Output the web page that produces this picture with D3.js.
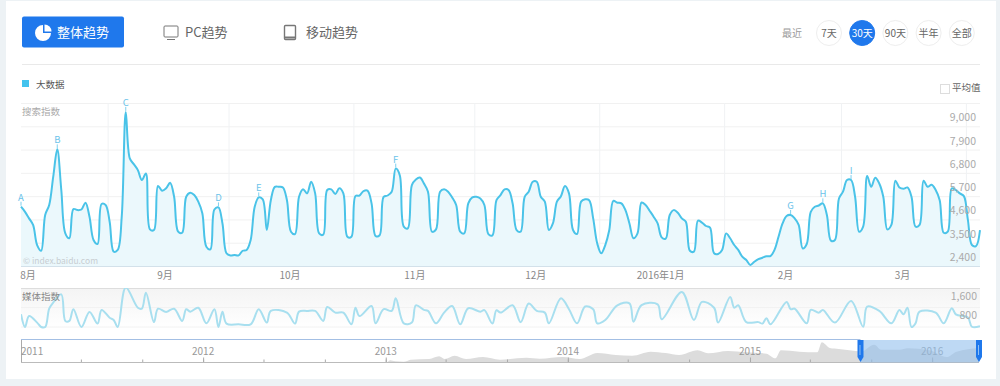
<!DOCTYPE html>
<html>
<head>
<meta charset="utf-8">
<script src="https://cdn.jsdelivr.net/npm/d3@7"></script>
<style>
  html, body { margin: 0; padding: 0; background: #edf2f5; overflow: hidden; }
  svg { display: block; font-family: "Noto Sans CJK SC", "Noto Sans", sans-serif; }
  .domain { display: none; }
</style>
</head>
<body>
<script>
// search index, one value per day from 2015-08-10
const searchValues = [
  5200, 4960, 4650, 4340, 3390, 3120, 4810, 5280, 6620, 7910,
  5990, 3940, 3710, 5090, 5040, 5070, 5390, 4730, 3630, 3440,
  5330, 5280, 4490, 3080, 3160, 4730, 9680, 7480, 7210, 6930,
  6460, 6770, 4130, 4100, 6180, 5960, 6070, 6330, 5670, 4020,
  3970, 5670, 5860, 5750, 5440, 4890, 3310, 3190, 5070, 5170,
  4410, 3000, 2900, 2920, 2900, 3120, 3160, 3630, 5200, 5640,
  5550, 4100, 5510, 6140, 6140, 6110, 5510, 4020, 3910, 5670,
  6030, 5830, 6380, 5830, 3940, 3880, 5990, 6020, 5800, 6070,
  5830, 3780, 3780, 5700, 5730, 5940, 5960, 5360, 3820, 3850,
  5670, 5730, 5910, 7000, 6690, 4260, 4180, 6220, 6490, 6580,
  6300, 5910, 4020, 4130, 5910, 6020, 5910, 5640, 5280, 4020,
  3940, 5360, 5640, 5670, 5590, 5280, 3910, 3850, 5510, 5750,
  6020, 5990, 5360, 4100, 4020, 5670, 5910, 6380, 6380, 5670,
  5440, 4100, 4410, 5440, 5700, 6180, 5830, 4100, 3910, 5440,
  5550, 5510, 4650, 3470, 3000, 3390, 4100, 5480, 5390, 5360,
  5040, 4410, 3710, 3940, 5400, 5280, 5010, 4730, 4410, 3750,
  3690, 4810, 5040, 4920, 4650, 4490, 3120, 3080, 4540, 4450,
  4290, 4210, 3000, 2970, 3160, 3940, 3710, 3390, 3160, 2840,
  2680, 2450, 2600, 2720, 2790, 2860, 2870, 3160, 3780, 4410,
  4760, 4810, 4650, 4340, 3230, 3440, 4960, 5200, 5260, 5360,
  4810, 3600, 3630, 5590, 5910, 6460, 6460, 5670, 4020, 4260,
  6650, 6140, 6570, 6300, 5670, 4130, 4340, 6430, 6110, 6050,
  6110, 5670, 4260, 4340, 6430, 6140, 6240, 5990, 5510, 3970,
  4020, 6070, 5990, 5830, 5700, 4570, 3390, 3340, 4100
];

// media index, turning points only (day number, value)
const mediaDays = [
  0, 1, 2, 4, 5, 6, 7, 8, 10, 11, 12, 13, 15, 17, 19, 20, 22, 23, 24, 26,
  29, 30, 31, 33, 34, 36, 38, 40, 41, 42, 44, 46, 48, 49, 50, 51, 54, 57, 59, 61,
  62, 66, 68, 69, 71, 73, 75, 76, 78, 80, 82, 83, 84, 87, 88, 90, 92, 93, 95, 97,
  98, 100, 101, 103, 105, 107, 109, 111, 114, 115, 117, 118, 119, 122, 124, 126, 128, 130, 131, 134,
  136, 138, 140, 142, 143, 145, 148, 151, 152, 154, 158, 159, 164, 167, 169, 172, 173, 176, 177, 178,
  180, 183, 184, 185, 186, 190, 191, 192, 195, 196, 198, 199, 202, 206, 209, 210, 213, 216, 218, 219,
  220, 221, 222, 223, 227, 229, 231, 232, 235, 236, 238
];
const mediaValues = [
  1320, 800, 1250, 980, 800, 800, 1550, 1800, 2140, 1050, 1050, 1530, 800, 1420, 940, 1500, 1180, 1090, 800, 2420,
  1590, 1550, 2210, 1000, 1550, 1420, 1550, 1050, 1530, 1430, 1590, 950, 1530, 800, 1430, 940, 910, 910, 1530, 980,
  1460, 1390, 940, 1430, 1460, 1460, 1050, 1620, 1390, 1390, 910, 1590, 1250, 1660, 950, 1530, 1460, 1980, 950, 980,
  1690, 1500, 1460, 950, 1390, 1660, 910, 1570, 1430, 1490, 940, 1490, 1390, 1690, 1000, 1760, 1460, 1390, 950, 1980,
  1530, 950, 1640, 1530, 950, 1090, 1690, 1770, 1020, 1700, 1730, 1120, 2240, 1090, 1830, 1590, 980, 2030, 1590, 1690,
  1000, 1000, 940, 1160, 910, 1830, 1530, 1550, 950, 1500, 1390, 1500, 980, 1870, 810, 1640, 1460, 950, 1500, 1320,
  1590, 800, 950, 1430, 1390, 950, 1570, 1320, 1190, 810, 830
];

// overview strip
const overviewDates = [
  '2012-10-25', '2013-01-04', '2013-01-10', '2013-01-20', '2013-02-06', '2013-02-20', '2013-03-29', '2013-04-18',
  '2013-04-29', '2013-05-19', '2013-06-11', '2013-07-15', '2013-08-18', '2013-10-10', '2013-11-06', '2013-12-22',
  '2014-01-25', '2014-03-01', '2014-04-07', '2014-05-10', '2014-06-16', '2014-07-16', '2014-08-12', '2014-09-18',
  '2014-10-09', '2014-11-18', '2014-12-25', '2015-02-03', '2015-02-21', '2015-03-04', '2015-04-10', '2015-05-16',
  '2015-05-25', '2015-06-10', '2015-06-28', '2015-08-01', '2015-08-12', '2015-09-07', '2015-09-21', '2015-10-28',
  '2015-11-13', '2015-12-27', '2016-01-30', '2016-02-19', '2016-04-04'
];
const overviewValues = [
  0, 0, 830, 330, 100, 1170, 1500, 2840,
  1500, 3170, 1500, 2500, 1170, 2170, 1670, 2500,
  1500, 4500, 3500, 3170, 5170, 4500, 3500, 5840,
  4340, 5500, 4840, 4170, 1840, 5840, 5170, 4840,
  9850, 7010, 6510, 5500, 5340, 8680, 6180, 6180,
  6850, 5840, 2500, 5170, 7010
];

const searchTicks = [2400, 3500, 4600, 5700, 6800, 7900, 9000, 10100];
const mediaTicks = [800, 1600, 2400];
const monthGrid = ['2015-09-01', '2015-10-01', '2015-11-01', '2015-12-01', '2016-01-01', '2016-02-01', '2016-03-01', '2016-04-01'];
const monthLabels = ['8月', '9月', '10月', '11月', '12月', '2016年1月', '2月', '3月'];
const monthLabelDates = ['2015-08-12', '2015-09-15', '2015-10-16', '2015-11-16', '2015-12-16', '2016-01-16', '2016-02-16', '2016-03-16'];
const markerLetters = ['A', 'B', 'C', 'D', 'E', 'F', 'G', 'H', 'I'];
const markerDays = [0, 9, 26, 49, 59, 93, 191, 199, 206];
const rangeLabels = ['7天', '30天', '90天', '半年', '全部'];
const yearTicks = ['2011', '2012', '2013', '2014', '2015', '2016'];

const width = 1000;
const height = 386;
const left = 21;
const right = 980;
const blue = '#1f78ec';
const lineColor = '#4ac3e8';

const parse = d3.timeParse('%Y-%m-%d');
const startDay = new Date(2015, 7, 10, 12);
const dayDate = i => d3.timeDay.offset(startDay, i);

const x = d3.scaleTime([startDay, dayDate(238)], [left, right]);
const y = d3.scaleLinear([2400, 10100], [266, 103]);
const yMedia = d3.scaleLinear([800, 2400], [327, 288]);
const xOver = d3.scaleTime([new Date(2011, 0, 1), new Date(2016, 3, 4)], [left, 979]);
const yOver = d3.scaleLinear([0, 10000], [362, 342]);
const smooth = d3.curveCatmullRom.alpha(0.5);

const svg = d3.select('body').append('svg')
  .attr('width', width)
  .attr('height', height)
  .attr('viewBox', [0, 0, width, height]);

const defs = svg.append('defs');
const grad = defs.append('linearGradient').attr('id', 'media-bg').attr('x1', 0).attr('x2', 0).attr('y1', 0).attr('y2', 1);
grad.append('stop').attr('offset', 0).attr('stop-color', '#f4f4f4');
grad.append('stop').attr('offset', 1).attr('stop-color', '#ffffff');
defs.append('clipPath').attr('id', 'media-clip').append('rect')
  .attr('x', left).attr('y', 288).attr('width', right - left).attr('height', 42);

// card
svg.append('rect').attr('x', 6).attr('y', 1).attr('width', 990).attr('height', 378).attr('fill', '#fff');

// tab bar
svg.append('rect').attr('x', 22).attr('y', 16.5).attr('width', 102).attr('height', 31).attr('rx', 2).attr('fill', blue);
const pie = d3.arc().innerRadius(0).outerRadius(8);
svg.append('path').attr('transform', 'translate(43,33)').attr('fill', '#fff')
  .attr('d', pie({startAngle: Math.PI / 2, endAngle: Math.PI * 2}));
svg.append('path').attr('transform', 'translate(44.5,31.5)').attr('fill', '#fff')
  .attr('d', pie.outerRadius(7)({startAngle: 0, endAngle: Math.PI / 2}));
svg.append('text').attr('x', 57).attr('y', 37).attr('font-size', 13).attr('fill', '#fff').text('整体趋势');

svg.append('rect').attr('x', 164).attr('y', 26).attr('width', 14).attr('height', 11).attr('rx', 1)
  .attr('fill', 'none').attr('stroke', '#777').attr('stroke-width', 1);
svg.append('line').attr('x1', 167).attr('x2', 175).attr('y1', 39.5).attr('y2', 39.5).attr('stroke', '#777');
svg.append('text').attr('x', 185).attr('y', 37).attr('font-size', 13).attr('fill', '#666').text('PC趋势');

svg.append('rect').attr('x', 284.5).attr('y', 25.5).attr('width', 11).attr('height', 14).attr('rx', 1)
  .attr('fill', 'none').attr('stroke', '#777').attr('stroke-width', 1.4);
svg.append('line').attr('x1', 285).attr('x2', 295).attr('y1', 37.5).attr('y2', 37.5).attr('stroke', '#777').attr('stroke-width', 2);
svg.append('text').attr('x', 306).attr('y', 37).attr('font-size', 13).attr('fill', '#666').text('移动趋势');

svg.append('text').attr('x', 782).attr('y', 37).attr('font-size', 10).attr('fill', '#999').text('最近');
const rangeBtn = svg.append('g').selectAll('g').data(rangeLabels).join('g')
  .attr('transform', (d, i) => `translate(${829 + i * 33.2},33)`);
rangeBtn.append('circle').attr('r', 12.5)
  .attr('fill', (d, i) => i === 1 ? blue : '#fff')
  .attr('stroke', (d, i) => i === 1 ? blue : '#eee');
rangeBtn.append('text').attr('y', 3.5).attr('text-anchor', 'middle').attr('font-size', 10)
  .attr('fill', (d, i) => i === 1 ? '#fff' : '#666').text(d => d);

svg.append('line').attr('x1', 22).attr('x2', 980).attr('y1', 64.5).attr('y2', 64.5).attr('stroke', '#e9e9e9');

// legend
svg.append('rect').attr('x', 22).attr('y', 80).attr('width', 7).attr('height', 7).attr('fill', '#43c3ee');
svg.append('text').attr('x', 36).attr('y', 87.5).attr('font-size', 9.5).attr('fill', '#555').text('大数据');
svg.append('rect').attr('x', 940.5).attr('y', 84.5).attr('width', 9).attr('height', 9).attr('fill', '#fff').attr('stroke', '#ddd');
svg.append('text').attr('x', 952).attr('y', 91).attr('font-size', 9.5).attr('fill', '#666').text('平均值');

// search index panel
svg.append('g').attr('transform', `translate(${left},0)`)
  .call(d3.axisLeft(y).tickValues(searchTicks).tickSize(-(right - left)).tickFormat(''))
  .call(g => g.selectAll('.tick line').attr('stroke', '#f1f1f1'));
svg.append('g').attr('transform', 'translate(0,266)')
  .call(d3.axisBottom(x).tickValues(monthGrid.map(parse)).tickSize(-163).tickFormat(''))
  .call(g => g.selectAll('.tick line').attr('stroke', '#f0f2f4'));

const area = d3.area()
  .x((d, i) => x(dayDate(i)))
  .y0(266)
  .y1(d => y(d))
  .curve(smooth);
const line = d3.line()
  .x((d, i) => x(dayDate(i)))
  .y(d => y(d))
  .curve(smooth);

svg.append('path').datum(searchValues).attr('fill', '#ebf8fc').attr('d', area);
svg.append('line').attr('x1', left).attr('x2', right).attr('y1', 266.5).attr('y2', 266.5).attr('stroke', '#d3e1ea');
svg.append('path').datum(searchValues)
  .attr('fill', 'none').attr('stroke', lineColor).attr('stroke-width', 2).attr('d', line);

svg.append('text').attr('x', 22).attr('y', 115).attr('font-size', 9.5).attr('fill', '#aaa').text('搜索指数');
svg.append('text').attr('x', 23).attr('y', 264).attr('font-size', 8.5).attr('fill', '#c8ced2').text('© index.baidu.com');

svg.append('g').selectAll('text').data(searchTicks.filter(d => d <= 9000)).join('text')
  .attr('x', 976).attr('y', d => y(d) - 5)
  .attr('text-anchor', 'end').attr('font-size', 10.5).attr('fill', '#aaa')
  .text(d3.format(','));

svg.append('g').selectAll('text').data(monthLabels).join('text')
  .attr('x', (d, i) => x(parse(monthLabelDates[i])) + 1)
  .attr('y', 279).attr('text-anchor', 'middle').attr('font-size', 10).attr('fill', '#888')
  .text(d => d);

const markers = svg.append('g').selectAll('g').data(markerLetters).join('g')
  .attr('transform', (d, i) => `translate(${x(dayDate(markerDays[i]))},${y(searchValues[markerDays[i]])})`);
markers.append('line').attr('y1', -1).attr('y2', -5).attr('stroke', '#7fd0ee');
markers.append('text').attr('y', -6).attr('text-anchor', 'middle').attr('font-size', 9.5).attr('fill', '#6cc3ea').text(d => d);

// media index panel
svg.append('rect').attr('x', left).attr('y', 288).attr('width', right - left).attr('height', 40).attr('fill', 'url(#media-bg)');
svg.append('line').attr('x1', left).attr('x2', right).attr('y1', 288.5).attr('y2', 288.5).attr('stroke', '#ddd');
svg.append('g').selectAll('line').data(mediaTicks.slice(0, 2)).join('line')
  .attr('x1', left).attr('x2', right).attr('y1', d => yMedia(d)).attr('y2', d => yMedia(d)).attr('stroke', '#f2f2f2');

const mediaLine = d3.line()
  .x(d => x(dayDate(d)))
  .y((d, i) => yMedia(mediaValues[i]))
  .curve(smooth);
svg.append('path').datum(mediaDays).attr('clip-path', 'url(#media-clip)')
  .attr('fill', 'none').attr('stroke', '#a8dfef').attr('stroke-width', 2).attr('d', mediaLine);

svg.append('text').attr('x', 22).attr('y', 300).attr('font-size', 9.5).attr('fill', '#888').text('媒体指数');
svg.append('g').selectAll('text').data(mediaTicks.slice(0, 2)).join('text')
  .attr('x', 977).attr('y', d => yMedia(d) - 8)
  .attr('text-anchor', 'end').attr('font-size', 10.5).attr('fill', '#aaa')
  .text(d3.format(','));

// overview strip
const overArea = d3.area()
  .x(d => xOver(parse(d)))
  .y0(362)
  .y1((d, i) => yOver(overviewValues[i]))
  .curve(d3.curveMonotoneX);
svg.append('path').datum(overviewDates).attr('fill', '#dcdcdc').attr('d', overArea);

const minorTicks = d3.timeMonth.every(4).range(new Date(2011, 0, 1), new Date(2016, 3, 4));
svg.append('g').attr('transform', 'translate(0,362.5)')
  .call(d3.axisTop(xOver).tickValues(minorTicks).tickSize(3).tickFormat(''))
  .call(g => g.selectAll('.tick line').attr('stroke', '#aaa'));
svg.append('g').attr('transform', 'translate(0,362.5)')
  .call(d3.axisTop(xOver).tickValues(yearTicks.map(d => new Date(+d, 0, 1))).tickSize(5).tickFormat(''))
  .call(g => g.selectAll('.tick line').attr('stroke', '#aaa'));
svg.append('line').attr('x1', left).attr('x2', 979).attr('y1', 362.5).attr('y2', 362.5).attr('stroke', '#bbb');
svg.append('line').attr('x1', left + 0.5).attr('x2', left + 0.5).attr('y1', 340).attr('y2', 362).attr('stroke', '#aaa');

svg.append('g').selectAll('text').data(yearTicks).join('text')
  .attr('x', (d, i) => xOver(new Date(+d, 0, 1)))
  .attr('y', 355)
  .attr('text-anchor', (d, i) => i === 0 ? 'start' : 'middle')
  .attr('font-size', 10).attr('fill', '#999')
  .text(d => d);

const brushFrom = xOver(startDay);
const brushTo = 979;
svg.append('rect').attr('x', brushFrom).attr('y', 340).attr('width', brushTo - brushFrom).attr('height', 22.5)
  .attr('fill', '#92bfec').attr('fill-opacity', 0.6);
svg.append('line').attr('x1', left).attr('x2', brushFrom).attr('y1', 339.5).attr('y2', 339.5).attr('stroke', '#a3bfe4').attr('stroke-width', 1);

const handle = svg.append('g').selectAll('g').data([brushFrom, brushTo]).join('g')
  .attr('transform', d => `translate(${d},0)`);
handle.append('path').attr('fill', blue).attr('d', 'M-3,340h6v17l-3,5l-3,-5z');
handle.append('line').attr('x1', -0.5).attr('x2', -0.5).attr('y1', 345).attr('y2', 355).attr('stroke', '#8fc0f5');
</script>
</body>
</html>
